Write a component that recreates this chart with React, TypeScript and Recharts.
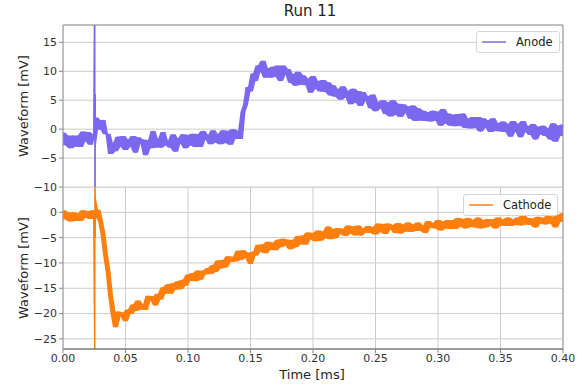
import React from 'react';
import { ComposedChart, Line, Area, XAxis, YAxis, CartesianGrid, ReferenceLine, Legend } from 'recharts';

const FONT = '"DejaVu Sans", Verdana, sans-serif';
const ANODE_COLOR = '#7b68ee';
const CATHODE_COLOR = '#ff7f0e';

// sampling of the waveforms (ms)
const sampleStepMs = 0.002;

// Anode waveform [mV], one value per 0.002 ms from 0.000 to 0.400
const anodeValues = [
  -0.6, -2.8, -1.1, -3.3, -1.1, -3.0, -1.1, -3.1, -0.4, -2.1,
  -0.5, -2.7, -0.9, -2.3, 1.1, -0.1, 1.6, -0.9, -0.8, -4.3,
  -2.4, -3.8, -1.3, -3.0, -1.2, -3.6, -1.8, -3.0, -1.2, -4.1,
  -1.4, -2.5, -1.8, -4.5, -1.9, -3.3, -0.3, -3.2, -1.7, -3.2,
  -0.5, -2.8, -2.0, -3.2, -0.9, -3.9, -1.6, -2.5, -0.9, -3.3,
  -1.0, -2.8, -0.8, -3.1, -0.9, -3.1, -0.3, -1.8, -1.0, -2.6,
  -0.2, -2.3, -0.9, -2.6, -0.2, -2.4, -0.3, -2.7, 0.0, -1.7,
  -0.3, -1.7, 3.0, 4.2, 7.3, 6.5, 9.6, 8.3, 11.0, 9.9,
  11.8, 8.9, 10.5, 8.9, 10.8, 9.1, 11.0, 8.3, 11.0, 9.4,
  10.4, 8.0, 9.5, 7.5, 9.9, 7.7, 9.3, 7.6, 8.7, 6.3,
  9.2, 7.0, 8.3, 6.5, 8.5, 6.4, 8.1, 5.8, 7.6, 5.6,
  6.9, 5.1, 7.4, 5.5, 6.6, 4.3, 7.0, 4.6, 6.6, 4.0,
  6.4, 4.9, 5.7, 3.6, 6.0, 3.1, 4.7, 3.6, 5.0, 2.6,
  4.6, 2.2, 5.0, 2.5, 4.4, 2.1, 4.3, 2.8, 3.9, 1.8,
  4.1, 1.4, 3.6, 1.5, 3.2, 1.4, 2.9, 1.3, 3.2, 1.5,
  3.0, 0.6, 3.5, 1.0, 2.7, 0.6, 2.5, 0.5, 2.6, 0.6,
  2.7, 0.2, 1.8, 0.1, 2.1, 0.2, 2.1, -0.4, 1.9, 0.3,
  1.5, -0.5, 1.9, -0.3, 1.0, -0.4, 1.3, -0.5, 0.9, -1.3,
  1.4, -0.4, 0.9, -1.4, 1.4, -0.5, 0.5, -1.0, 0.9, -1.8,
  0.4, -0.9, 0.6, -1.2, 0.1, -1.8, 1.0, -2.2, 0.6, -1.2,
  0.8,
];

// Cathode waveform [mV], same sampling
const cathodeValues = [
  0.4, -1.4, 0.0, -1.8, 0.0, -1.7, -0.2, -1.7, 0.4, -1.0,
  0.2, -1.3, 0.4, -1.0, 0.5, -1.7, -4.3, -8.4, -11.6, -16.4,
  -20.0, -22.7, -19.6, -20.6, -19.8, -21.5, -19.2, -20.1, -18.2, -19.5,
  -17.4, -19.2, -18.2, -19.3, -16.5, -17.4, -16.6, -18.4, -16.1, -17.2,
  -14.8, -16.1, -14.2, -16.1, -14.0, -15.3, -13.6, -15.2, -13.3, -14.5,
  -12.3, -13.5, -12.0, -13.6, -11.5, -13.3, -11.5, -12.3, -11.0, -12.2,
  -10.4, -11.8, -9.5, -11.1, -9.4, -10.9, -8.7, -9.8, -8.8, -9.7,
  -7.6, -9.4, -7.5, -9.0, -8.0, -10.2, -7.8, -8.6, -6.4, -7.8,
  -6.3, -8.1, -5.8, -7.4, -6.0, -7.5, -5.4, -6.9, -5.2, -6.6,
  -5.4, -7.3, -5.4, -6.9, -4.7, -6.3, -4.6, -6.4, -4.0, -5.3,
  -4.1, -5.7, -3.6, -5.6, -3.8, -5.1, -2.8, -5.3, -3.3, -5.1,
  -3.1, -4.3, -3.3, -4.7, -2.6, -4.2, -2.8, -4.6, -2.6, -4.6,
  -3.2, -4.0, -2.7, -4.1, -2.9, -4.4, -2.2, -3.9, -2.3, -4.3,
  -2.2, -3.4, -2.5, -4.1, -2.1, -4.2, -2.4, -3.8, -2.0, -3.9,
  -2.4, -3.7, -2.0, -3.7, -2.6, -4.1, -1.7, -3.0, -2.1, -3.2,
  -1.5, -3.6, -1.8, -3.2, -1.5, -3.3, -1.5, -3.3, -1.1, -2.8,
  -1.3, -3.2, -1.1, -2.9, -1.5, -3.0, -1.0, -3.2, -1.5, -3.0,
  -1.3, -2.7, -1.4, -3.2, -1.0, -2.6, -1.4, -2.7, -1.0, -2.7,
  -1.4, -2.5, -1.0, -2.6, -0.6, -2.4, -1.1, -2.5, -1.2, -3.0,
  -0.9, -2.2, -1.1, -2.4, -0.7, -2.2, -0.9, -3.0, -0.5, -1.9,
  -0.2,
];

// the trigger spike, sampled finer
const spikeTimes = [0.0252, 0.0254, 0.0256, 0.0258, 0.026, 0.0262];
const anodeSpike = [-1.5, 40, -30, 6, -3, 2];
const cathodeSpike = [-0.5, -40, 12, -5, 3, -1];

const timeTicks = [0, 0.05, 0.1, 0.15, 0.2, 0.25, 0.3, 0.35, 0.4];
const anodeTicks = [-10, -5, 0, 5, 10, 15];
const cathodeTicks = [-25, -20, -15, -10, -5, 0];

// rows: the sampled value plus the local min/max of neighbouring samples (noise envelope)
const buildRows = (values: number[], spike: number[]) => {
  const rows = values.map((v, i) => ({ t: Number((i * sampleStepMs).toFixed(4)), v }));
  spikeTimes.forEach((t, i) => rows.push({ t, v: spike[i] }));
  rows.sort((a, b) => a.t - b.t);
  return rows.map((r, i) => {
    const nb = [rows[Math.max(0, i - 1)].v, r.v, rows[Math.min(rows.length - 1, i + 1)].v];
    return { ...r, band: [Math.min(...nb), Math.max(...nb)] };
  });
};

const anodeRows = buildRows(anodeValues, anodeSpike);
const cathodeRows = buildRows(cathodeValues, cathodeSpike);

const fmtY = (v: number) => String(v).replace('-', '\u2212');
const fmtX = (v: number) => v.toFixed(2);

const tickStyle = { fontSize: 11, fill: '#333', fontFamily: FONT };

const LegendBox = (props: any) => {
  const { payload } = props;
  const items = (payload || []).filter((p: any) => p.type !== 'none');
  return (
    <div
      style={{
        border: '1px solid #d6d6d6',
        borderRadius: 3,
        background: 'rgba(255,255,255,0.85)',
        padding: '3px 6px 3px 4px',
        display: 'flex',
        alignItems: 'center',
        fontSize: 11.5,
        color: '#222',
        fontFamily: FONT,
        lineHeight: '14px',
      }}
    >
      {items.map((p: any) => (
        <React.Fragment key={p.value}>
          <svg width={26} height={10} style={{ display: 'block' }}>
            <line x1={1} y1={5} x2={25} y2={5} stroke={p.color} strokeWidth={1.5} />
          </svg>
          <span style={{ marginLeft: 9 }}>{p.value}</span>
        </React.Fragment>
      ))}
    </div>
  );
};

const yLabel = (props: any) => {
  const vb = props.viewBox || { x: 0, y: 0, width: 63, height: 162 };
  const cx = vb.x + 23;
  const cy = vb.y + vb.height / 2;
  return (
    <text
      x={cx}
      y={cy}
      transform={`rotate(-90 ${cx} ${cy})`}
      textAnchor="middle"
      dominantBaseline="central"
      fontSize={13}
      fill="#262626"
      fontFamily={FONT}
    >
      Waveform [mV]
    </text>
  );
};

const xLabel = (props: any) => {
  const vb = props.viewBox || { x: 63, y: 349, width: 500, height: 36 };
  return (
    <text x={vb.x + vb.width / 2 - 1} y={vb.y + 30} textAnchor="middle" fontSize={13} fill="#262626" fontFamily={FONT}>
      Time [ms]
    </text>
  );
};

export default function App() {
  return (
    <div style={{ position: 'absolute', left: 0, top: 0, width: 587, height: 385, background: '#fff', fontFamily: FONT }}>
      <div style={{ position: 'absolute', left: 58, top: 2, width: 504, textAlign: 'center', fontSize: 15, color: '#222' }}>Run 11</div>

      <div style={{ position: 'absolute', left: 0, top: 187 }}>
        <ComposedChart width={587} height={198} data={cathodeRows} margin={{ top: 0, right: 24, bottom: 0, left: 0 }}>
          <CartesianGrid stroke="#cccccc" />
          <XAxis
            dataKey="t"
            type="number"
            domain={[0, 0.4]}
            ticks={timeTicks}
            interval={0}
            allowDataOverflow
            height={36}
            tickFormatter={fmtX}
            tick={tickStyle}
            tickSize={4}
            tickMargin={1}
            tickLine={{ stroke: '#888' }}
            axisLine={{ stroke: '#555' }}
            label={{ content: xLabel }}
          />
          <YAxis
            type="number"
            domain={[-27, 5]}
            ticks={cathodeTicks}
            interval={0}
            allowDataOverflow
            width={63}
            tickFormatter={fmtY}
            tick={tickStyle}
            tickSize={4}
            tickMargin={2}
            tickLine={{ stroke: '#888' }}
            axisLine={{ stroke: '#999' }}
            label={{ content: yLabel }}
          />
          <ReferenceLine x={0.4} stroke="#999" ifOverflow="extendDomain" />
          <Area
            dataKey="band"
            type="linear"
            stroke="none"
            fill={CATHODE_COLOR}
            fillOpacity={1}
            legendType="none"
            isAnimationActive={false}
          />
          <Line
            dataKey="v"
            name="Cathode"
            type="linear"
            stroke={CATHODE_COLOR}
            strokeWidth={1}
            dot={false}
            isAnimationActive={false}
          />
          <Legend
            layout="vertical"
            align="center"
            verticalAlign="middle"
            content={<LegendBox />}
            wrapperStyle={{ position: 'absolute', left: 463, top: 7, width: 'auto' }}
          />
        </ComposedChart>
      </div>

      <div style={{ position: 'absolute', left: 0, top: 0 }}>
        <ComposedChart width={587} height={200} data={anodeRows} margin={{ top: 25, right: 24, bottom: 13, left: 0 }}>
          <CartesianGrid stroke="#cccccc" />
          <XAxis
            dataKey="t"
            type="number"
            domain={[0, 0.4]}
            ticks={timeTicks}
            interval={0}
            allowDataOverflow
            height={0}
            tick={false}
            tickLine={false}
            axisLine={{ stroke: '#444' }}
          />
          <YAxis
            type="number"
            domain={[-10, 18]}
            ticks={anodeTicks}
            interval={0}
            allowDataOverflow
            width={63}
            tickFormatter={fmtY}
            tick={tickStyle}
            tickSize={4}
            tickMargin={2}
            tickLine={{ stroke: '#888' }}
            axisLine={{ stroke: '#999' }}
            label={{ content: yLabel }}
          />
          <ReferenceLine x={0.4} stroke="#999" ifOverflow="extendDomain" />
          <ReferenceLine y={18} stroke="#999" ifOverflow="extendDomain" />
          <Area
            dataKey="band"
            type="linear"
            stroke="none"
            fill={ANODE_COLOR}
            fillOpacity={1}
            legendType="none"
            isAnimationActive={false}
          />
          <Line
            dataKey="v"
            name="Anode"
            type="linear"
            stroke={ANODE_COLOR}
            strokeWidth={1}
            dot={false}
            isAnimationActive={false}
          />
          <Legend
            layout="vertical"
            align="center"
            verticalAlign="middle"
            content={<LegendBox />}
            wrapperStyle={{ position: 'absolute', left: 476, top: 31, width: 'auto' }}
          />
        </ComposedChart>
      </div>
    </div>
  );
}
